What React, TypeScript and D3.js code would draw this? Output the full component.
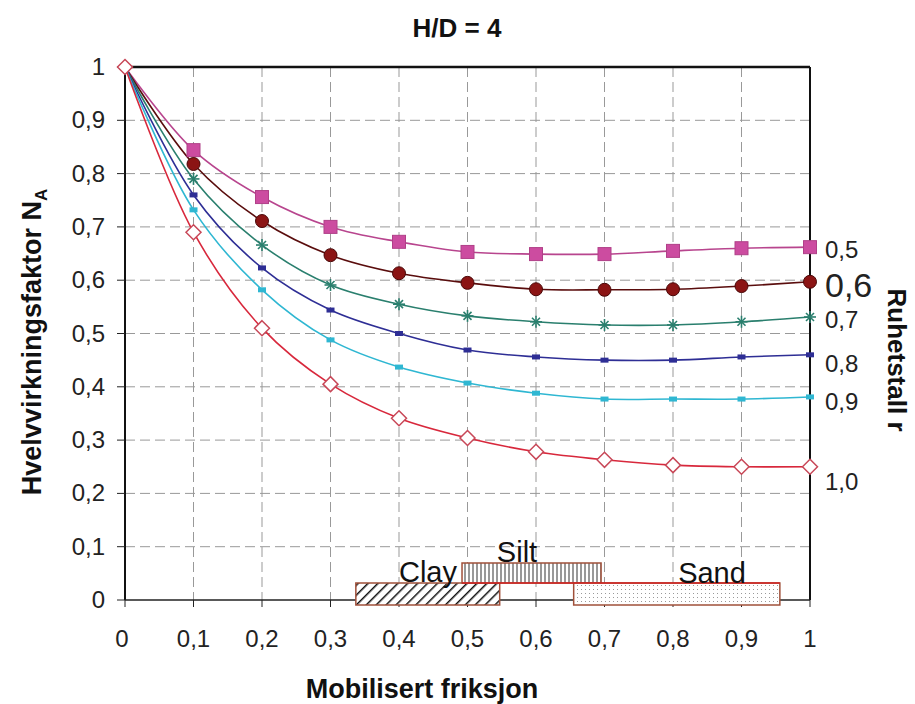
import React from "react";
import * as d3 from "d3";

const xVals = [0, 0.1, 0.2, 0.3, 0.4, 0.5, 0.6, 0.7, 0.8, 0.9, 1.0];
const r05 = [1, 0.844, 0.756, 0.700, 0.672, 0.653, 0.649, 0.649, 0.655, 0.660, 0.662];
const r06 = [1, 0.818, 0.711, 0.647, 0.613, 0.595, 0.583, 0.582, 0.583, 0.589, 0.597];
const r07 = [1, 0.790, 0.666, 0.591, 0.555, 0.533, 0.522, 0.516, 0.516, 0.522, 0.531];
const r08 = [1, 0.760, 0.623, 0.544, 0.500, 0.469, 0.456, 0.450, 0.450, 0.456, 0.460];
const r09 = [1, 0.732, 0.582, 0.488, 0.437, 0.407, 0.388, 0.377, 0.377, 0.377, 0.381];
const r10 = [1, 0.690, 0.510, 0.405, 0.341, 0.304, 0.278, 0.263, 0.253, 0.250, 0.250];

const seriesNames = ["0,5", "0,6", "0,7", "0,8", "0,9", "1,0"];
const xTicks = [0, 0.1, 0.2, 0.3, 0.4, 0.5, 0.6, 0.7, 0.8, 0.9, 1];
const yTicks = [0, 0.1, 0.2, 0.3, 0.4, 0.5, 0.6, 0.7, 0.8, 0.9, 1];

const soilNames = ["Clay", "Silt", "Sand"];
const soilStart = [0.337, 0.492, 0.655];
const soilEnd = [0.547, 0.695, 0.956];

const fmt = (v: number) => (v === 0 || v === 1 ? String(v) : String(v).replace(".", ","));

export default function App() {
  const left = 125, right = 810, top = 67, bottom = 600;
  const x = d3.scaleLinear().domain([0, 1]).range([left, right]);
  const y = d3.scaleLinear().domain([0, 1]).range([bottom, top]);
  const line = d3
    .line<number>()
    .x((_, i) => x(xVals[i]))
    .y((d) => y(d))
    .curve(d3.curveCatmullRom.alpha(0.5));

  const series = [
    { data: r05, line: "#b8458e", mark: "#cc4ca0", kind: "square" },
    { data: r06, line: "#5a0d0d", mark: "#8b1414", kind: "circle" },
    { data: r07, line: "#2a7f6e", mark: "#2a7f6e", kind: "star" },
    { data: r08, line: "#2e2e95", mark: "#2e2e95", kind: "dash" },
    { data: r09, line: "#2fb7d2", mark: "#2fb7d2", kind: "dash" },
    { data: r10, line: "#d8283c", mark: "#c84858", kind: "diamond" },
  ];

  const labelFont = "'Liberation Sans', Arial, sans-serif";

  const marker = (kind: string, color: string, cx: number, cy: number, key: string) => {
    switch (kind) {
      case "square":
        return <rect key={key} x={cx - 6.5} y={cy - 6.5} width={13} height={13} fill={color} stroke="#b04088" strokeWidth={1} />;
      case "circle":
        return <circle key={key} cx={cx} cy={cy} r={6.5} fill={color} stroke="#4a0808" strokeWidth={1} />;
      case "star":
        return (
          <g key={key} stroke={color} strokeWidth={1.6}>
            <line x1={cx - 6} y1={cy} x2={cx + 6} y2={cy} />
            <line x1={cx} y1={cy - 6} x2={cx} y2={cy + 6} />
            <line x1={cx - 4} y1={cy - 4} x2={cx + 4} y2={cy + 4} />
            <line x1={cx - 4} y1={cy + 4} x2={cx + 4} y2={cy - 4} />
          </g>
        );
      case "dash":
        return <rect key={key} x={cx - 4} y={cy - 2.5} width={8} height={5} fill={color} />;
      case "diamond":
        return (
          <path
            key={key}
            d={`M${cx},${cy - 7.5}L${cx + 7.5},${cy}L${cx},${cy + 7.5}L${cx - 7.5},${cy}Z`}
            fill="#fff"
            stroke={color}
            strokeWidth={1.5}
          />
        );
    }
    return null;
  };

  const labelBase = [258, 297, 328, 372, 410, 490];
  const labelSize = [24, 34, 24, 24, 24, 24];

  const barTop = [583, 563, 583];
  const barH = [22, 20, 22];
  const patterns = ["hatchClay", "hatchSilt", "dotSand"];
  const soilLabelX = [428, 517, 712];
  const soilLabelY = [582, 562, 583];

  return (
    <svg
      width={915}
      height={704}
      style={{ display: "block", position: "absolute", left: 0, top: 0 }}
      fontFamily={labelFont}
    >
      <defs>
        <pattern id="hatchClay" patternUnits="userSpaceOnUse" width={7} height={7} patternTransform="rotate(45)">
          <rect width={7} height={7} fill="#fff" />
          <line x1={0} y1={0} x2={0} y2={7} stroke="#111" strokeWidth={3} />
        </pattern>
        <pattern id="hatchSilt" patternUnits="userSpaceOnUse" width={4} height={4}>
          <rect width={4} height={4} fill="#fff" />
          <line x1={1} y1={0} x2={1} y2={4} stroke="#333" strokeWidth={1} />
        </pattern>
        <pattern id="dotSand" patternUnits="userSpaceOnUse" width={4} height={4}>
          <rect width={4} height={4} fill="#fff" />
          <rect x={1} y={1} width={1} height={1} fill="#999" />
        </pattern>
      </defs>
      <rect x={0} y={0} width={915} height={704} fill="#fff" />

      {/* grid */}
      {yTicks.slice(1, -1).map((t) => (
        <line key={"gy" + t} x1={left} x2={right} y1={y(t)} y2={y(t)} stroke="#999" strokeDasharray="10,5" strokeWidth={1} />
      ))}
      {xTicks.slice(1, -1).map((t) => (
        <line key={"gx" + t} x1={x(t)} x2={x(t)} y1={top} y2={bottom} stroke="#999" strokeDasharray="10,5" strokeWidth={1} />
      ))}

      {/* frame */}
      <line x1={left} x2={right} y1={top} y2={top} stroke="#111" strokeWidth={2.5} />
      <line x1={right} x2={right} y1={top} y2={bottom} stroke="#111" strokeWidth={2} />
      <line x1={left} x2={left} y1={top} y2={bottom} stroke="#111" strokeWidth={2} />
      <line x1={left} x2={right} y1={bottom} y2={bottom} stroke="#222" strokeWidth={1.5} />

      {/* ticks */}
      {yTicks.map((t) => (
        <g key={"ty" + t}>
          <line x1={left - 8} x2={left} y1={y(t)} y2={y(t)} stroke="#222" />
          <text x={105} y={y(t) + 8} textAnchor="end" fontSize={24} fill="#222">
            {fmt(t)}
          </text>
        </g>
      ))}
      {xTicks.map((t) => (
        <g key={"tx" + t}>
          <line x1={x(t)} x2={x(t)} y1={bottom} y2={bottom + 7} stroke="#222" />
          <text x={x(t) - (t === 0 ? 3 : 0)} y={647} textAnchor="middle" fontSize={24} fill="#222">
            {fmt(t)}
          </text>
        </g>
      ))}

      {/* soil bars */}
      {soilNames.map((n, i) => (
        <rect
          key={"bar" + n}
          x={x(soilStart[i])}
          y={barTop[i]}
          width={x(soilEnd[i]) - x(soilStart[i])}
          height={barH[i]}
          fill={`url(#${patterns[i]})`}
          stroke="#a0503a"
          strokeWidth={1.5}
        />
      ))}
      <line x1={x(soilStart[1])} x2={x(soilEnd[2])} y1={583} y2={583} stroke="#d02020" strokeWidth={1.5} />
      {soilNames.map((n, i) => (
        <text key={"lab" + n} x={soilLabelX[i]} y={soilLabelY[i]} textAnchor="middle" fontSize={29} fill="#111">
          {n}
        </text>
      ))}

      {/* series */}
      {series.map((s, si) => (
        <path key={"l" + si} d={line(s.data) || ""} fill="none" stroke={s.line} strokeWidth={1.6} />
      ))}
      {series.map((s, si) => (
        <g key={"m" + si}>{s.data.map((v, i) => (i === 0 && si < 5 ? null : marker(s.kind, s.mark, x(xVals[i]), y(v), si + "-" + i)))}</g>
      ))}

      {/* right labels */}
      {seriesNames.map((n, i) => (
        <text key={"sn" + n} x={825} y={labelBase[i]} fontSize={labelSize[i]} fill="#222">
          {n}
        </text>
      ))}

      {/* titles */}
      <text x={457} y={37} textAnchor="middle" fontSize={26} fontWeight="bold" fill="#111">
        H/D = 4
      </text>
      <text x={422} y={698} textAnchor="middle" fontSize={27} fontWeight="bold" fill="#111">
        Mobilisert friksjon
      </text>
      <text transform="translate(41,342) rotate(-90)" textAnchor="middle" fontSize={27} fontWeight="bold" fill="#111">
        Hvelvvirkningsfaktor N
        <tspan fontSize={17} dy={6}>A</tspan>
      </text>
      <text transform="translate(888,360) rotate(90)" textAnchor="middle" fontSize={26} fontWeight="bold" fill="#111">
        Ruhetstall r
      </text>
    </svg>
  );
}
